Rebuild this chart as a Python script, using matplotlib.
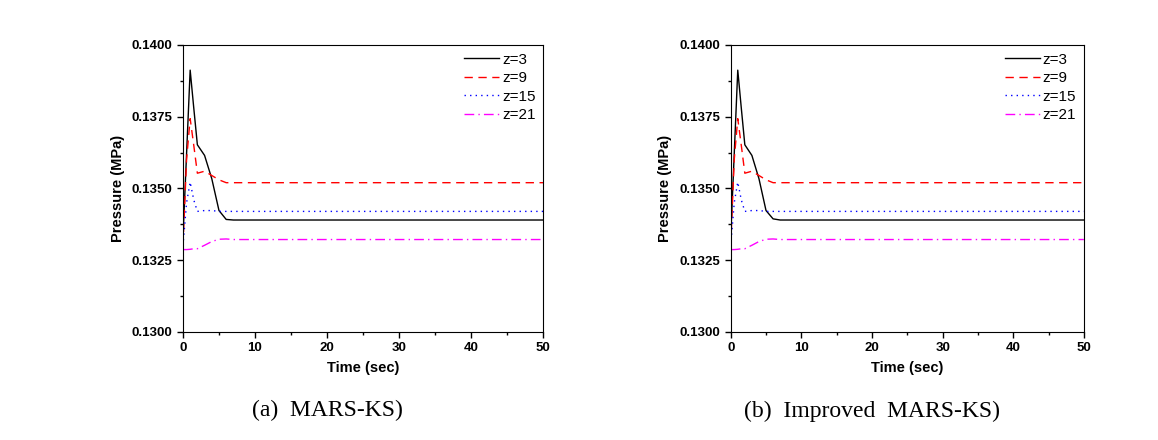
import matplotlib.pyplot as plt
import numpy as np
from matplotlib.ticker import MultipleLocator

# time points (sec)
t = [0, 0.5, 1, 1.5, 2, 3, 4, 5, 6, 7, 50]

# (a) MARS-KS
a_z3 = [0.1333, 0.1362, 0.13912, 0.1378, 0.13652, 0.13615, 0.13534, 0.13423, 0.13392, 0.1339, 0.1339]
a_z9 = [0.1330, 0.1360, 0.13743, 0.1365, 0.13553, 0.1356, 0.13545, 0.1353, 0.1352, 0.1352, 0.1352]
a_z15 = [0.1330, 0.1345, 0.13522, 0.1346, 0.1342, 0.13423, 0.13423, 0.1342, 0.1342, 0.1342, 0.1342]
a_z21 = [0.13287, 0.13287, 0.13288, 0.1329, 0.1329, 0.13302, 0.13315, 0.13323, 0.13324, 0.13322, 0.13322]

# (b) Improved MARS-KS
b_z3 = [0.1333, 0.1362, 0.13912, 0.1378, 0.13652, 0.13615, 0.13534, 0.13423, 0.13394, 0.1339, 0.1339]
b_z9 = [0.1330, 0.1360, 0.13743, 0.1365, 0.13553, 0.1356, 0.13545, 0.1353, 0.1352, 0.1352, 0.1352]
b_z15 = [0.1330, 0.1345, 0.13522, 0.1346, 0.1342, 0.13423, 0.13423, 0.1342, 0.1342, 0.1342, 0.1342]
b_z21 = [0.13287, 0.13287, 0.13288, 0.1329, 0.1329, 0.13302, 0.13315, 0.13323, 0.13324, 0.13322, 0.13322]

labels = ['z=3', 'z=9', 'z=15', 'z=21']
captions = ['(a)  MARS-KS)', '(b)  Improved  MARS-KS)']

plt.rcParams['font.family'] = ['Liberation Sans', 'DejaVu Sans']

fig = plt.figure(figsize=(11.58, 4.4), dpi=100)
ax1 = fig.add_axes([0.158, 0.2455, 0.311, 0.6525])
ax2 = fig.add_axes([0.631, 0.2455, 0.305, 0.6525])

styles = [dict(color='black', ls='-'),
          dict(color='red', ls=(0, (6, 4))),
          dict(color='blue', ls=(0, (1, 3))),
          dict(color='magenta', ls=(0, (7, 3, 1, 3)))]

for ax, series, cap in [(ax1, [a_z3, a_z9, a_z15, a_z21], captions[0]),
                        (ax2, [b_z3, b_z9, b_z15, b_z21], captions[1])]:
    for y, lab, st in zip(series, labels, styles):
        ax.plot(t, y, lw=1.0, label=lab, **st)
    ax.set_xlim(0, 50)
    ax.set_ylim(0.1300, 0.1400)
    ax.xaxis.set_major_locator(MultipleLocator(10))
    ax.xaxis.set_minor_locator(MultipleLocator(5))
    ax.yaxis.set_major_locator(MultipleLocator(0.0025))
    ax.yaxis.set_minor_locator(MultipleLocator(0.00125))
    ax.yaxis.set_major_formatter(plt.FormatStrFormatter('%.4f'))
    ax.tick_params(which='major', length=4, width=1, labelsize=9.5)
    ax.tick_params(which='minor', length=2.5, width=1)
    for lbl in ax.get_xticklabels() + ax.get_yticklabels():
        lbl.set_fontweight('bold')
    ax.set_xlabel('Time (sec)', fontsize=10.5, fontweight='bold', labelpad=5)
    ax.set_ylabel('Pressure (MPa)', fontsize=10.5, fontweight='bold', labelpad=5)
    ax.legend(loc='upper right', frameon=False, fontsize=11, handlelength=2.3,
              handletextpad=0.2, labelspacing=0.3, borderaxespad=0.1)
    ax.text(0.4, -0.275, cap, transform=ax.transAxes, ha='center', va='center',
            fontsize=17, family=['Liberation Serif', 'DejaVu Serif'])

fig.savefig('out.png', dpi=100)
